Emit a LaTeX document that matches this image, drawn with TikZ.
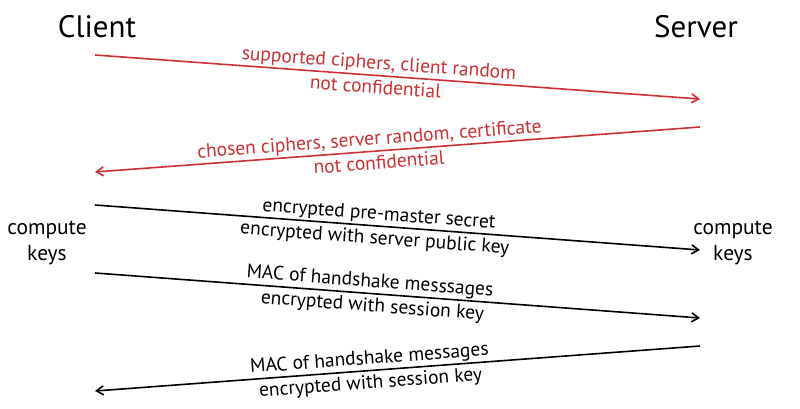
\documentclass[tikz,border=0pt]{standalone}
\usepackage{fontspec}
\setmainfont{PT Sans}
\usetikzlibrary{arrows.meta}
\definecolor{msgred}{RGB}{204,48,48}
\begin{document}
\begin{tikzpicture}[x=1pt,y=-1pt,
  party/.style={font=\fontsize{31}{33}\selectfont, inner sep=0pt},
  note/.style={font=\fontsize{21.5}{26}\selectfont, align=center, inner sep=0pt},
  msg/.style={line width=1.6pt, -{Straight Barb[length=7pt,width=9pt,line width=1.6pt]}},
  lbl/.style={font=\fontsize{19.5}{21}\selectfont, sloped, inner sep=0pt},
  up/.style={above=1.5pt},
  down/.style={below=3.5pt}]
\useasboundingbox (0,0) rectangle (800,409);
\node[party] (client) at (97,27) {Client};
\node[party] (server) at (696,27) {Server};
\node[note] (ckl) at (47,243) {compute\\keys};
\node[note] (ckr) at (733,243) {compute\\keys};
\coordinate (a1s) at (95,55);  \coordinate (a1e) at (700,99);
\coordinate (a2s) at (700,127); \coordinate (a2e) at (95,172);
\coordinate (a3s) at (95,205); \coordinate (a3e) at (700,250);
\coordinate (a4s) at (95,273); \coordinate (a4e) at (700,318);
\coordinate (a5s) at (700,346); \coordinate (a5e) at (95,391);
\draw[msg, msgred] (a1s) -- (a1e)
  node[lbl, pos=0.468, up, text=msgred] {supported ciphers, client random}
  node[lbl, pos=0.465, down, text=msgred] {not confidential};
\draw[msg, msgred] (a2s) -- (a2e)
  node[lbl, pos=0.545, up, text=msgred] {chosen ciphers, server random, certificate}
  node[lbl, pos=0.532, down, text=msgred] {not confidential};
\draw[msg] (a3s) -- (a3e)
  node[lbl, pos=0.468, up] {encrypted pre-master secret}
  node[lbl, pos=0.464, down] {encrypted with server public key};
\draw[msg] (a4s) -- (a4e)
  node[lbl, pos=0.453, up] {MAC of handshake messsages}
  node[lbl, pos=0.46, down] {encrypted with session key};
\draw[msg] (a5s) -- (a5e)
  node[lbl, pos=0.545, up] {MAC of handshake messages}
  node[lbl, pos=0.546, down] {encrypted with session key};
\end{tikzpicture}
\end{document}
